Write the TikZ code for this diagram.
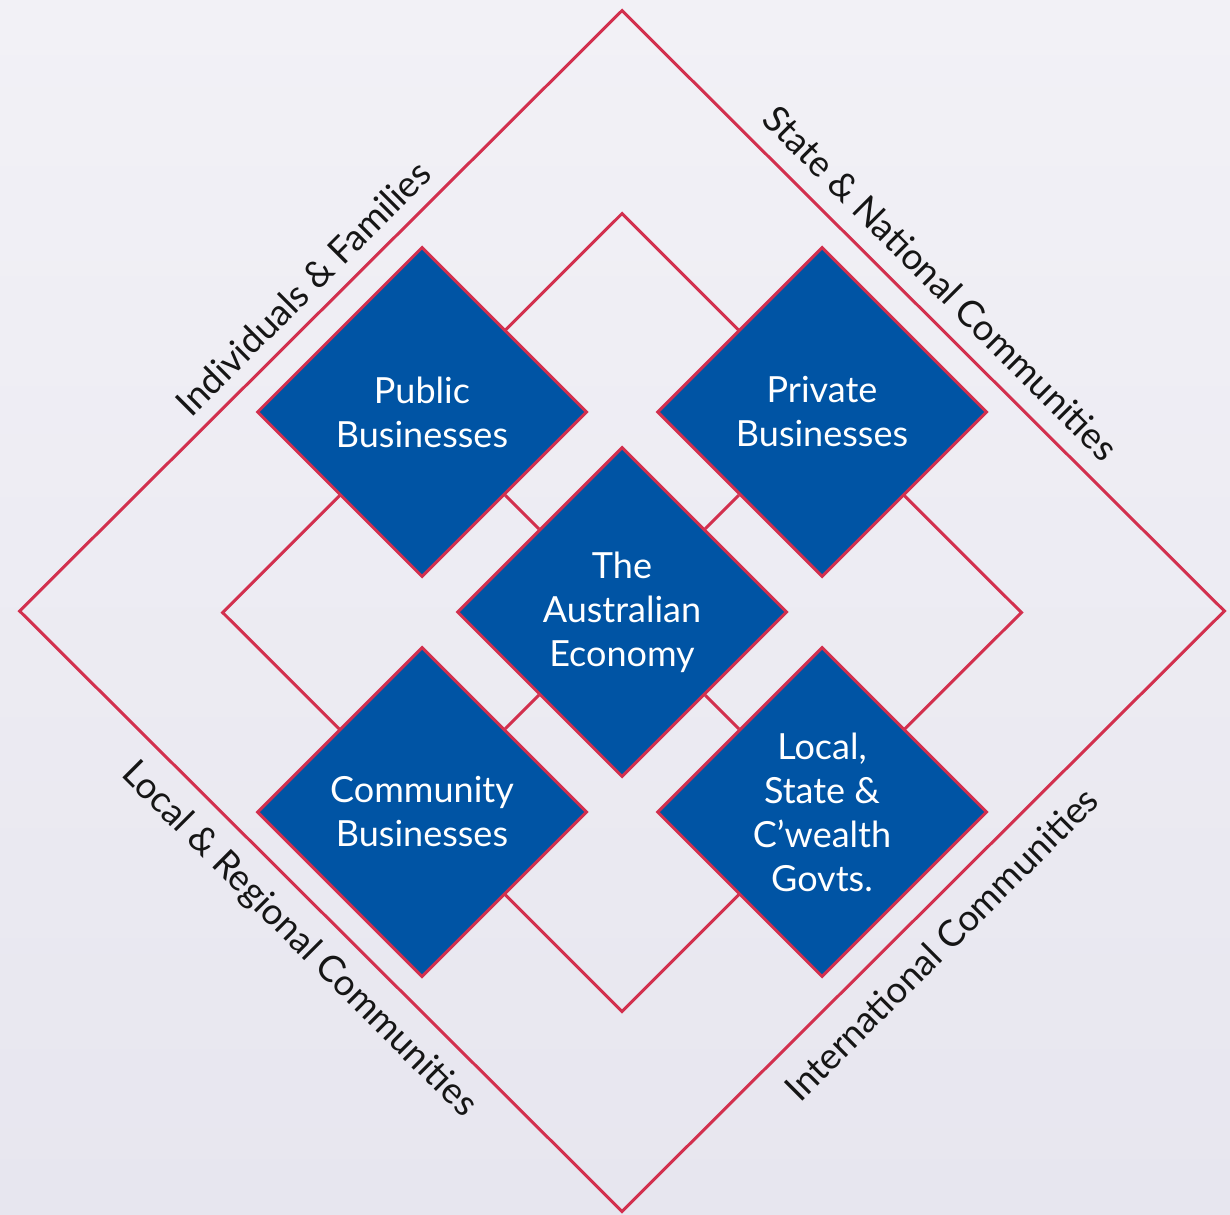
\documentclass[tikz,border=0pt]{standalone}
\usepackage{fontspec}
\setmainfont{Lato}
\usetikzlibrary{shapes.geometric}
\definecolor{bgtop}{HTML}{F2F1F6}
\definecolor{bgbot}{HTML}{E7E6EF}
\definecolor{ecoblue}{HTML}{0054A4}
\definecolor{ecored}{HTML}{D2304E}
\definecolor{labelink}{HTML}{151515}
\tikzset{
  redline/.style={draw=ecored, line width=3pt},
  framediamond/.style={shape=diamond, redline, inner sep=0pt, aspect=1},
  bluediamond/.style={shape=diamond, aspect=1, fill=ecoblue, draw=ecored, line width=3pt,
     minimum width=330pt, minimum height=330pt, inner sep=0pt,
     text=white, align=center, font=\fontsize{36}{44}\selectfont},
  edgelabel/.style={text=labelink, font=\fontsize{36.5}{40}\selectfont, inner sep=0pt},
  link/.style={draw=ecored, line width=3pt}
}
\begin{document}
\begin{tikzpicture}[x=1pt, y=-1pt]
  \useasboundingbox (0,0) rectangle (1230,1214);
  \shade[top color=bgtop, bottom color=bgbot] (0,0) rectangle (1230,1214);

  % frame diamonds
  \node[framediamond, minimum width=1206pt, minimum height=1202pt] (outer) at (622,611) {};
  \node[framediamond, minimum width=800pt, minimum height=799pt] (inner) at (622,612.5) {};

  % business diamonds
  \node[bluediamond] (eco) at (622,612) {The\\Australian\\Economy};
  \node[bluediamond] (pub) at (422,412) {Public\\Businesses};
  \node[bluediamond] (pri) at (822,412) {Private\\Businesses};
  \node[bluediamond] (com) at (422,812) {Community\\Businesses};
  \node[bluediamond] (gov) at (822,812) {Local,\\State \&\\C’wealth\\Govts.};

  % links between the diamonds
  \draw[link] (pub) -- (eco);
  \draw[link] (pri) -- (eco);
  \draw[link] (com) -- (eco);
  \draw[link] (gov) -- (eco);

  % edge labels
  \node[edgelabel, rotate=45] (lif) at (303,288) {Individuals \& Families};
  \node[edgelabel, rotate=-45] (lsn) at (941,283) {State \& National Communities};
  \node[edgelabel, rotate=-45] (llr) at (299,940) {Local \& Regional Communities};
  \node[edgelabel, rotate=45] (lic) at (941,944) {International Communities};
\end{tikzpicture}
\end{document}
